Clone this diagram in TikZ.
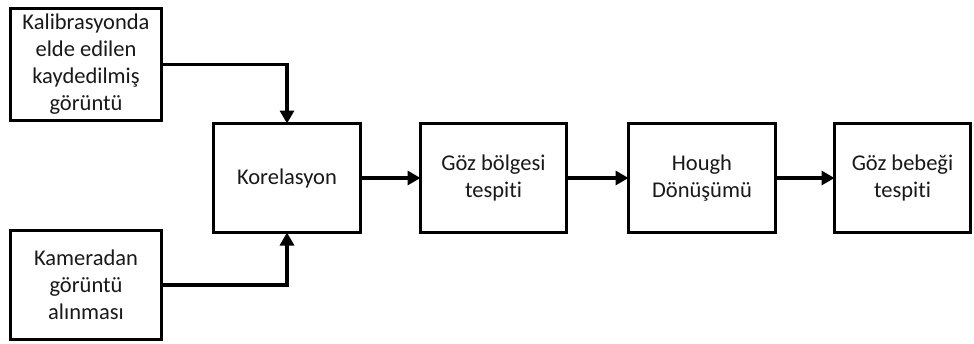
\documentclass[tikz,border=0pt]{standalone}
\usepackage{fontspec}
\setmainfont{Carlito}[RawFeature={-liga}]
\usetikzlibrary{arrows.meta}
\begin{document}
\begin{tikzpicture}[x=1pt,y=-1pt,
  box/.style={draw=black,line width=3.2pt,fill=white,inner sep=0pt,outer sep=0pt,
    align=center,font=\fontsize{22.5}{27}\selectfont,text=black!90},
  conn/.style={line width=3.2pt,-{Triangle[length=13pt,width=14pt]}}]
\useasboundingbox (0,0) rectangle (974,343);
\node[box,minimum width=151pt,minimum height=112pt] (A) at (86,64.5) {Kalibrasyonda\\elde edilen\\kaydedilmiş\\görüntü};
\node[box,minimum width=151pt,minimum height=109pt] (B) at (86,285) {Kameradan\\görüntü\\alınması};
\node[box,minimum width=147pt,minimum height=109pt] (K) at (287,178) {Korelasyon};
\node[box,minimum width=146pt,minimum height=109pt] (G) at (493.5,178) {Göz bölgesi\\tespiti};
\node[box,minimum width=147pt,minimum height=109pt] (H) at (702,178) {Hough\\Dönüşümü};
\node[box,minimum width=136pt,minimum height=109pt] (E) at (902.5,178) {Göz bebeği\\tespiti};
\draw[conn] (A.east) -| (K.north);
\draw[conn] (B.east) -| (K.south);
\draw[conn] (K) -- (G);
\draw[conn] (G) -- (H);
\draw[conn] (H) -- (E);
\end{tikzpicture}
\end{document}
